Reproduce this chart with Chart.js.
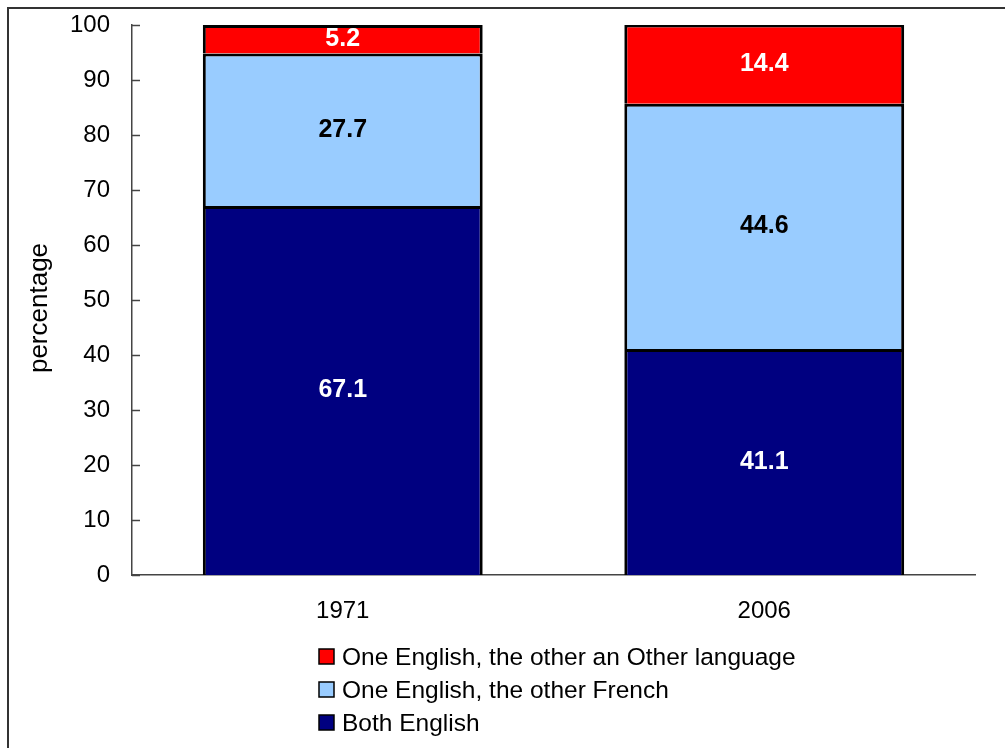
<!DOCTYPE html>
<html>
<head>
<meta charset="utf-8">
<script src="https://cdn.jsdelivr.net/npm/chart.js@4.4.1/dist/chart.umd.min.js"></script>
<style>
  body { margin: 0; background: #fff; }
  #wrap { width: 1005px; height: 748px; }
</style>
</head>
<body>
<div id="wrap"><canvas id="myChart" width="1005" height="748"></canvas></div>
<script>
// data
const years = ["1971", "2006"];
const bothEnglish = [67.1, 41.1];
const englishFrench = [27.7, 44.6];
const englishOther = [5.2, 14.4];
const yTicks = [0, 10, 20, 30, 40, 50, 60, 70, 80, 90, 100];
const yTitle = "percentage";

const FONT = "'Liberation Sans', Arial, sans-serif";

// numbers in the middle of each segment
const segmentLabels = {
  id: "segmentLabels",
  afterDatasetsDraw(chart) {
    const ctx = chart.ctx;
    ctx.save();
    ctx.font = "bold 25px " + FONT;
    ctx.textAlign = "center";
    ctx.textBaseline = "middle";
    chart.data.datasets.forEach((ds, i) => {
      const meta = chart.getDatasetMeta(i);
      meta.data.forEach((bar, j) => {
        const p = bar.getProps(["x", "y", "base"], true);
        ctx.fillStyle = ds.labelColor;
        ctx.fillText(ds.data[j].toFixed(1), p.x, (p.y + p.base) / 2);
      });
    });
    ctx.restore();
  }
};

// inside tick marks, axis title, frame and the vertical legend
const extras = {
  id: "extras",
  afterDraw(chart) {
    const ctx = chart.ctx;
    const area = chart.chartArea;
    const y = chart.scales.y;
    ctx.save();
    ctx.strokeStyle = "#444";
    ctx.lineWidth = 1.5;
    y.ticks.forEach((t, i) => {
      const py = Math.round(y.getPixelForTick(i)) + 0.5;
      ctx.beginPath();
      ctx.moveTo(area.left, py);
      ctx.lineTo(area.left + 8, py);
      ctx.stroke();
    });

    // y title (sits a little below the middle in the original)
    ctx.save();
    ctx.translate(40, 308);
    ctx.rotate(-Math.PI / 2);
    ctx.font = "26px " + FONT;
    ctx.fillStyle = "#000";
    ctx.textAlign = "center";
    ctx.textBaseline = "middle";
    ctx.fillText(yTitle, 0, 0);
    ctx.restore();

    // frame
    ctx.strokeStyle = "#333";
    ctx.lineWidth = 2;
    ctx.beginPath();
    ctx.moveTo(8, 748);
    ctx.lineTo(8, 8);
    ctx.lineTo(1005, 8);
    ctx.stroke();

    // legend, top item = last dataset
    ctx.font = "24.5px " + FONT;
    ctx.textBaseline = "middle";
    ctx.textAlign = "left";
    const items = chart.data.datasets.slice().reverse();
    items.forEach((ds, i) => {
      const cy = 657 + i * 33;
      ctx.fillStyle = ds.backgroundColor;
      ctx.fillRect(319, cy - 8, 15, 15);
      ctx.strokeStyle = "#000";
      ctx.lineWidth = 1.5;
      ctx.strokeRect(319, cy - 8, 15, 15);
      ctx.fillStyle = "#000";
      ctx.fillText(ds.label, 342, cy + 1);
    });
    ctx.restore();
  }
};

new Chart(document.getElementById("myChart"), {
  type: "bar",
  data: {
    labels: years,
    datasets: [
      { label: "Both English", data: bothEnglish, backgroundColor: "#000080", labelColor: "#fff" },
      { label: "One English, the other French", data: englishFrench, backgroundColor: "#99CCFF", labelColor: "#000" },
      { label: "One English, the other an Other language", data: englishOther, backgroundColor: "#FF0000", labelColor: "#fff" }
    ].map(d => Object.assign(d, {
      borderColor: "#000",
      borderWidth: 3,
      categoryPercentage: 1,
      barPercentage: 0.664
    }))
  },
  options: {
    responsive: false,
    animation: false,
    devicePixelRatio: 1,
    layout: { padding: { left: 0, right: 30, top: 25, bottom: 0 } },
    plugins: {
      legend: { display: false },
      tooltip: { enabled: false }
    },
    scales: {
      x: {
        stacked: true,
        grid: { display: false, drawTicks: false },
        border: { display: true, color: "#444", width: 1.5 },
        ticks: { color: "#000", font: { family: FONT, size: 24 }, padding: 22 },
        afterFit(scale) { scale.height = 173; scale.paddingLeft = 0; scale.paddingRight = 0; }
      },
      y: {
        stacked: true,
        min: 0,
        max: 100,
        afterBuildTicks(scale) { scale.ticks = yTicks.map(v => ({ value: v })); },
        grid: { display: false, drawTicks: false },
        border: { display: true, color: "#444", width: 1.5 },
        ticks: { color: "#000", font: { family: FONT, size: 24 }, padding: 22 },
        afterFit(scale) { scale.width = 132; scale.paddingTop = 0; scale.paddingBottom = 0; }
      }
    }
  },
  plugins: [segmentLabels, extras]
});
</script>
</body>
</html>
